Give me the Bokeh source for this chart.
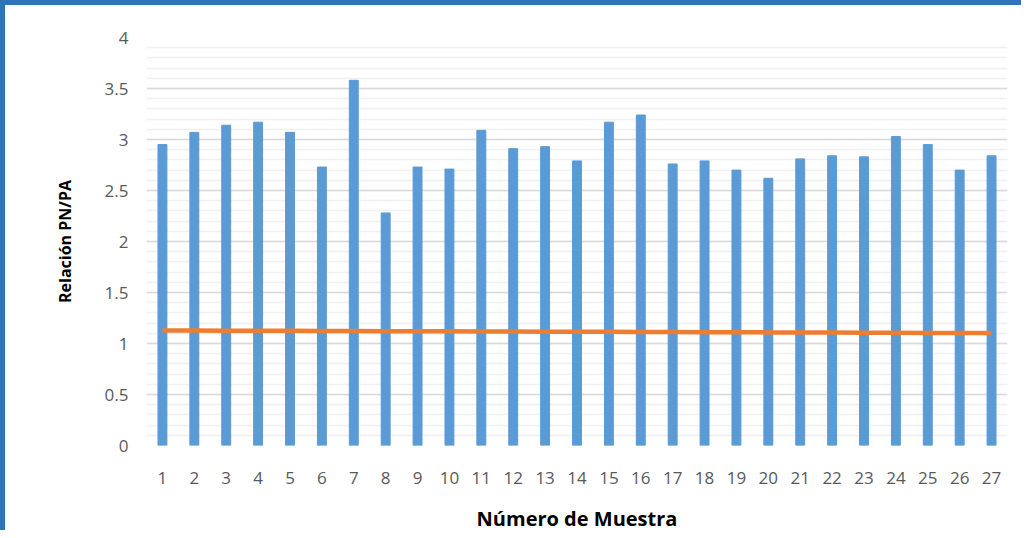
from bokeh.plotting import figure
from bokeh.models import FactorRange, Range1d, SingleIntervalTicker, ColumnDataSource
from bokeh.embed import file_html
from bokeh.resources import INLINE

muestras = [str(i) for i in range(1, 28)]
relacion = [2.95, 3.07, 3.14, 3.17, 3.07, 2.73, 3.58, 2.28, 2.73, 2.71,
            3.09, 2.91, 2.93, 2.79, 3.17, 3.24, 2.76, 2.79, 2.70, 2.62,
            2.81, 2.84, 2.83, 3.03, 2.95, 2.70, 2.84]
referencia = [1.128, 1.127, 1.126, 1.125, 1.124, 1.123, 1.122, 1.121, 1.120, 1.119,
              1.118, 1.117, 1.116, 1.115, 1.114, 1.113, 1.112, 1.111, 1.110, 1.109,
              1.108, 1.107, 1.106, 1.105, 1.104, 1.103, 1.102]
y_ticks = [0, 0.5, 1, 1.5, 2, 2.5, 3, 3.5, 4]
y_tick_labels = ["0", "0.5", "1", "1.5", "2", "2.5", "3", "3.5", "4"]

src = ColumnDataSource(dict(x=muestras, top=relacion, ref=referencia))

p = figure(x_range=FactorRange(*muestras, range_padding=0), y_range=Range1d(0, 4),
           width=1021, height=530, output_backend="svg", toolbar_location=None,
           min_border_left=141, min_border_right=19, min_border_top=32, min_border_bottom=90)
p.styles = {"border-left": "5px solid #2E75B6", "border-top": "5px solid #2E75B6"}
p.outline_line_color = None

p.vbar(x="x", top="top", width=0.28, source=src, color="#5B9BD5")
p.line(x="x", y="ref", source=src, line_color="#ED7D31", line_width=4.5)

p.yaxis.ticker = SingleIntervalTicker(interval=0.5, num_minor_ticks=5)
p.yaxis.major_label_overrides = {t: l for t, l in zip(y_ticks, y_tick_labels)}
p.ygrid.grid_line_color = "#D9D9D9"
p.ygrid.grid_line_width = 1.5
p.ygrid.minor_grid_line_color = "#F0F0F0"
p.ygrid.minor_grid_line_width = 1.5
p.xgrid.grid_line_color = None

for ax in (p.xaxis, p.yaxis):
    ax.axis_line_color = None
    ax.major_tick_line_color = None
    ax.minor_tick_line_color = None
    ax.major_label_text_font = "Open Sans"
    ax.major_label_text_font_size = "17px"
    ax.major_label_text_color = "#595959"
    ax.axis_label_text_font = "Open Sans"
    ax.axis_label_text_font_style = "bold"
    ax.axis_label_text_color = "#000000"

p.yaxis.axis_label = "Relación PN/PA"
p.yaxis.axis_label_text_font_size = "16px"
p.yaxis.major_label_standoff = 12
p.yaxis.axis_label_standoff = 26
p.xaxis.axis_label = "Número de Muestra"
p.xaxis.axis_label_text_font_size = "20px"
p.xaxis.major_label_standoff = 20
p.xaxis.axis_label_standoff = 18
p.xaxis.group_text_font_size = "0px"

open("out.html", "w").write(file_html(p, INLINE))
